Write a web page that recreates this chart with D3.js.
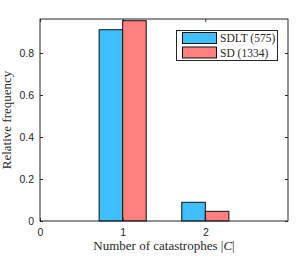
<!DOCTYPE html>
<html>
<head>
<meta charset="utf-8">
<script src="https://cdn.jsdelivr.net/npm/d3@7"></script>
<style>
  body { margin: 0; background: #fff; }
  svg text { fill: #262626; }
</style>
</head>
<body>
<div id="vis"></div>
<script>
// chart data
var categories = [1, 2];
var seriesNames = ["SDLT (575)", "SD (1334)"];
var seriesColors = ["#40bfff", "#ff7f7f"];
var sdltValues = [0.911, 0.089];
var sdValues = [0.954, 0.046];
var xTicks = [0, 1, 2];
var yTicks = [0, 0.2, 0.4, 0.6, 0.8];

var margin = { top: 19, right: 11, bottom: 36, left: 40 };
var width = 299 - margin.left - margin.right;
var height = 257 - margin.top - margin.bottom;

var svg = d3
  .select("#vis")
  .append("svg")
  .attr("width", 299)
  .attr("height", 257)
  .append("g")
  .attr("transform", `translate(${margin.left}, ${margin.top})`);

var x = d3.scaleLinear().domain([0, 3]).range([0, width]);
var y = d3.scaleLinear().domain([0, 0.962]).range([height, 0]);

var barW = 0.285; // bar width in data units
var series = [sdltValues, sdValues];

// bars, side by side around each category
series.forEach((vals, s) => {
  svg
    .selectAll(".bar" + s)
    .data(categories.map((c, i) => [c, vals[i]]))
    .enter()
    .append("rect")
    .attr("x", (d) => x(d[0] + (s - 1) * barW))
    .attr("y", (d) => y(d[1]))
    .attr("width", x(barW) - x(0))
    .attr("height", (d) => y(0) - y(d[1]))
    .attr("fill", seriesColors[s])
    .attr("stroke", "#111")
    .attr("stroke-width", 1);
});

// axes with inward ticks, box style
var tickFont = "Liberation Sans, Arial, sans-serif";
var xAxis = svg
  .append("g")
  .attr("transform", `translate(0, ${height})`)
  .call(d3.axisBottom(x).tickValues(xTicks).tickSize(-3).tickPadding(7.5).tickFormat(d3.format("d")));
var xTop = svg
  .append("g")
  .call(d3.axisTop(x).tickValues(xTicks).tickSize(-3).tickFormat(""));
var yAxis = svg
  .append("g")
  .call(d3.axisLeft(y).tickValues(yTicks).tickSize(-3).tickPadding(6).tickFormat((d) => (d === 0 ? "0" : d3.format(".1f")(d))));
var yRight = svg
  .append("g")
  .attr("transform", `translate(${width}, 0)`)
  .call(d3.axisRight(y).tickValues(yTicks).tickSize(-3).tickFormat(""));

[xAxis, xTop, yAxis, yRight].forEach((a) => {
  a.selectAll("line").attr("stroke", "#262626");
  a.selectAll("text").style("font-family", tickFont).style("font-size", "10.5px").attr("fill", "#262626");
});
svg.selectAll(".domain").remove();
svg
  .append("rect")
  .attr("x", 0)
  .attr("y", 0)
  .attr("width", width)
  .attr("height", height)
  .attr("fill", "none")
  .attr("stroke", "#262626")
  .attr("stroke-width", 1);

// axis labels
var serif = "Liberation Serif, Times New Roman, serif";
var xl = svg
  .append("text")
  .attr("x", width / 2)
  .attr("y", height + 29)
  .attr("text-anchor", "middle")
  .style("font-family", serif)
  .style("font-size", "13px");
xl.append("tspan").text("Number of catastrophes |");
xl.append("tspan").style("font-style", "italic").text("C");
xl.append("tspan").text("|");

svg
  .append("text")
  .attr("transform", `translate(${-29}, ${height / 2}) rotate(-90)`)
  .attr("text-anchor", "middle")
  .style("font-family", serif)
  .style("font-size", "13px")
  .text("Relative frequency");

// legend
var legend = svg.append("g").attr("transform", `translate(${176.5 - margin.left}, ${30.5 - margin.top})`);
legend
  .append("rect")
  .attr("width", 101)
  .attr("height", 30)
  .attr("fill", "#fff")
  .attr("stroke", "#262626")
  .attr("stroke-width", 1);
seriesNames.forEach((name, i) => {
  legend
    .append("rect")
    .attr("x", 6)
    .attr("y", 2 + i * 14.5)
    .attr("width", 34)
    .attr("height", 11)
    .attr("fill", seriesColors[i])
    .attr("stroke", "#111");
  legend
    .append("text")
    .attr("x", 43.5)
    .attr("y", 11.5 + i * 14.5)
    .style("font-family", serif)
    .style("font-size", "11.5px")
    .text(name);
});
</script>
</body>
</html>
